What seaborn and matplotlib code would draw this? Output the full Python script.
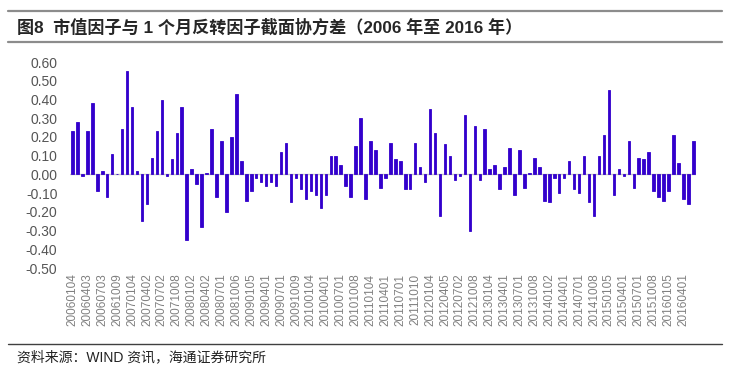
import pandas as pd
import matplotlib.pyplot as plt
import seaborn as sns
from matplotlib.lines import Line2D

# monthly covariance values, 2006-01 .. 2016-06
values = [
    0.23, 0.28, -0.01, 0.23, 0.38, -0.09, 0.02, -0.12, 0.11, 0.00,
    0.24, 0.55, 0.36, 0.02, -0.25, -0.16, 0.09, 0.23, 0.40, -0.01,
    0.08, 0.22, 0.36, -0.35, 0.03, -0.05, -0.28, 0.01, 0.24, -0.12,
    0.18, -0.20, 0.20, 0.43, 0.07, -0.14, -0.09, -0.02, -0.04, -0.06,
    -0.04, -0.06, 0.12, 0.17, -0.15, -0.02, -0.08, -0.13, -0.09, -0.11,
    -0.18, -0.11, 0.10, 0.10, 0.05, -0.06, -0.12, 0.15, 0.30, -0.13,
    0.18, 0.13, -0.07, -0.02, 0.17, 0.08, 0.07, -0.08, -0.08, 0.17,
    0.04, -0.04, 0.35, 0.22, -0.22, 0.16, 0.10, -0.03, -0.01, 0.32,
    -0.30, 0.26, -0.03, 0.24, 0.03, 0.05, -0.08, 0.04, 0.14, -0.11,
    0.13, -0.07, 0.01, 0.09, 0.04, -0.14, -0.15, -0.02, -0.10, -0.02,
    0.07, -0.08, -0.10, 0.10, -0.15, -0.22, 0.10, 0.21, 0.45, -0.11,
    0.03, -0.01, 0.18, -0.07, 0.09, 0.08, 0.12, -0.09, -0.12, -0.14,
    -0.09, 0.21, 0.06, -0.13, -0.16, 0.18,
]

# x tick labels, one every third month
tick_labels = [
    "20060104", "20060403", "20060703", "20061009", "20070104", "20070402",
    "20070702", "20071008", "20080102", "20080402", "20080701", "20081006",
    "20090105", "20090401", "20090701", "20091009", "20100104", "20100401",
    "20100701", "20101008", "20110104", "20110401", "20110701", "20111010",
    "20120104", "20120405", "20120702", "20121008", "20130104", "20130401",
    "20130701", "20131008", "20140102", "20140401", "20140701", "20141008",
    "20150105", "20150401", "20150701", "20151008", "20160105", "20160401",
]

title = "图8  市值因子与 1 个月反转因子截面协方差（2006 年至 2016 年）"
source = "资料来源：WIND 资讯，海通证券研究所"

sns.set_style("white")
plt.rcParams['font.family'] = ['Liberation Sans', 'Noto Sans CJK SC', 'DejaVu Sans']

df = pd.DataFrame({'month': range(len(values)), 'value': values})

fig = plt.figure(figsize=(7.32, 3.73), dpi=100)
ax = fig.add_axes([0.0956, 0.2815, 0.855, 0.552])

sns.barplot(data=df, x='month', y='value', color='#3300cc', saturation=1,
            width=0.5, edgecolor='#3300cc', linewidth=0.6, ax=ax)
ax.axhline(0, color='#c8c8c8', lw=1, zorder=0)

ax.set_xlim(-0.5, len(values) - 0.5)
ax.set_ylim(-0.5, 0.6)
ax.set_yticks([i / 10 for i in range(-5, 7)])
ax.set_yticklabels([f"{i / 10:.2f}" for i in range(-5, 7)], fontsize=10, color='#555555')
ax.set_xticks(range(0, 3 * len(tick_labels), 3))
ax.set_xticklabels(tick_labels, rotation=90, fontsize=8.5, color='#808080')
ax.tick_params(axis='both', length=0)
ax.tick_params(axis='y', pad=9)
ax.tick_params(axis='x', pad=4)
ax.set_xlabel('')
ax.set_ylabel('')
for s in ax.spines.values():
    s.set_visible(False)

# header / footer decorations
fig.add_artist(Line2D([0.011, 0.987], [1 - 11 / 373, 1 - 11 / 373], color='#8c8c8c', lw=1.6))
fig.add_artist(Line2D([0.011, 0.987], [1 - 42 / 373, 1 - 42 / 373], color='#8c8c8c', lw=1.6))
fig.add_artist(Line2D([0.011, 0.987], [1 - 344 / 373, 1 - 344 / 373], color='#404040', lw=1))
fig.text(17 / 732, 1 - 27 / 373, title, fontsize=12.3, fontweight='bold', va='center', ha='left')
fig.text(17 / 732, 1 - 357 / 373, source, fontsize=10, va='center', ha='left', color='#222222')

fig.savefig('out.png', dpi=100)
